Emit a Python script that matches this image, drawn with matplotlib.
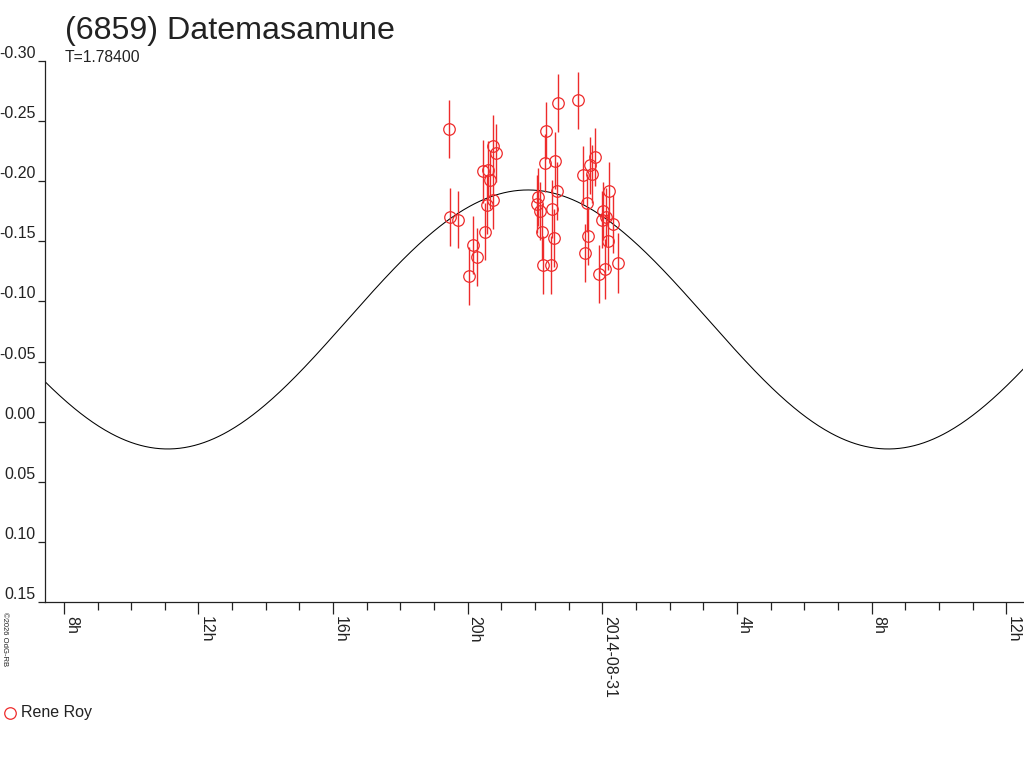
#!/usr/bin/env python3
"""Lightcurve of (6859) Datemasamune, 2014-08-30/31."""

import matplotlib
matplotlib.use("Agg")
import matplotlib.pyplot as plt
from matplotlib.lines import Line2D
from matplotlib.ticker import FixedLocator, MultipleLocator, FuncFormatter
import numpy as np

plt.rcParams["font.family"] = ["Liberation Sans", "DejaVu Sans"]

RED = "#ee2b2b"
INK = "#222222"

TITLE = "(6859) Datemasamune"
PERIOD_LABEL = "T=1.78400"
OBSERVER = "Rene Roy"
STAMP = "©2026 OdG-RB"

# time in hours relative to 2014-08-31 00:00 UT, relative magnitude, 1-sigma error
OBS_HOURS = [
    -4.55, -4.52, -4.30, -3.97, -3.83, -3.72, -3.48, -3.54, -3.39, -3.34,
    -3.24, -3.17, -3.42, -3.26,
    -1.31, -1.66, -1.70, -1.40, -1.34, -1.90, -1.95, -1.85, -1.49, -1.80,
    -1.44, -1.77, -1.53,
    -0.71, -0.22, -0.37, -0.57, -0.30, 0.21, -0.46, 0.01, -0.02, 0.11,
    0.31, -0.42, 0.18, -0.51, 0.48, 0.08, -0.09,
]
OBS_MAG = [
    -0.243, -0.170, -0.168, -0.121, -0.147, -0.137, -0.158, -0.208, -0.209, -0.201,
    -0.229, -0.223, -0.180, -0.184,
    -0.265, -0.242, -0.215, -0.217, -0.192, -0.187, -0.181, -0.175, -0.177, -0.158,
    -0.153, -0.130, -0.130,
    -0.267, -0.220, -0.213, -0.205, -0.206, -0.192, -0.182, -0.175, -0.168, -0.170,
    -0.164, -0.154, -0.150, -0.140, -0.132, -0.127, -0.123,
]
OBS_ERR = [
    0.024, 0.024, 0.024, 0.024, 0.024, 0.024, 0.024, 0.026, 0.024, 0.024,
    0.026, 0.024, 0.024, 0.024,
    0.024, 0.024, 0.024, 0.024, 0.024, 0.024, 0.024, 0.024, 0.024, 0.024,
    0.024, 0.024, 0.024,
    0.024, 0.024, 0.024, 0.024, 0.024, 0.024, 0.024, 0.024, 0.024, 0.024,
    0.024, 0.024, 0.024, 0.024, 0.025, 0.025, 0.024,
]

# fitted lightcurve: dominant second harmonic of the period T (days)
FIT_PERIOD_D = 1.784
FIT_MEAN = -0.085
FIT_AMP = 0.1076
FIT_T0_H = -2.21   # hour of maximum brightness

X_TICKS = [-16, -12, -8, -4, 0, 4, 8, 12]
X_TICK_LABELS = ["8h", "12h", "16h", "20h", "2014-08-31", "4h", "8h", "12h"]
Y_TICKS = [-0.30, -0.25, -0.20, -0.15, -0.10, -0.05, 0.00, 0.05, 0.10, 0.15]

X_RANGE = (-16.56, 12.50)
Y_RANGE = (0.15, -0.30)


def main() -> int:
    W, H = 1024, 768
    fig = plt.figure(figsize=(W / 100, H / 100), dpi=100)
    ax = fig.add_axes([45 / W, 1 - 602.3 / H, 978 / W, 541.6 / H])

    # model curve
    t = np.linspace(X_RANGE[0], X_RANGE[1], 800)
    half_period_h = FIT_PERIOD_D * 24 / 2
    model = FIT_MEAN - FIT_AMP * np.cos(2 * np.pi * (t - FIT_T0_H) / half_period_h)
    ax.plot(t, model, color="black", linewidth=0.75, zorder=2)

    ax.errorbar(OBS_HOURS, OBS_MAG, yerr=OBS_ERR, fmt="none",
                ecolor=RED, elinewidth=1.0, capsize=0, zorder=3)
    ax.plot(OBS_HOURS, OBS_MAG, "o", mfc="none", mec=RED, ms=8.3, mew=0.9,
            zorder=4)

    ax.set_xlim(*X_RANGE)
    ax.set_ylim(*Y_RANGE)

    for side in ("top", "right"):
        ax.spines[side].set_visible(False)
    for side in ("left", "bottom"):
        ax.spines[side].set_color(INK)
        ax.spines[side].set_linewidth(0.9)

    ax.xaxis.set_major_locator(FixedLocator(X_TICKS))
    ax.set_xticklabels(X_TICK_LABELS, rotation=-90, ha="left", va="top")
    ax.xaxis.set_minor_locator(MultipleLocator(1))
    ax.tick_params(axis="x", which="major", direction="out", length=8.6,
                   width=0.9, pad=1, labelsize=11.5, colors=INK)
    ax.tick_params(axis="x", which="minor", direction="out", length=5.8,
                   width=0.9, colors=INK)

    ax.yaxis.set_major_locator(FixedLocator(Y_TICKS))
    ax.yaxis.set_major_formatter(FuncFormatter(lambda v, _: f"{v:.2f}"))
    ax.tick_params(axis="y", direction="out", length=5, width=0.9, pad=1.5,
                   labelsize=11.5, colors=INK)
    for lbl in ax.get_yticklabels():
        lbl.set_verticalalignment("bottom")

    # header texts
    fig.text(65 / W, 1 - 31 / H, TITLE, fontsize=23.2, color=INK,
             ha="left", va="center")
    fig.text(65 / W, 1 - 57 / H, PERIOD_LABEL, fontsize=11.3, color=INK,
             ha="left", va="center")

    # copyright stamp along the left edge
    fig.text(1 / W, 1 - 612 / H, STAMP, fontsize=5.5, color=INK,
             rotation=-90, ha="left", va="top")

    # observer legend
    fig.add_artist(Line2D([10 / W], [1 - 713 / H], marker="o", mfc="none",
                          mec=RED, ms=8.3, mew=0.9, linestyle="none",
                          transform=fig.transFigure))
    fig.text(21 / W, 1 - 713 / H, OBSERVER, fontsize=11.5, color=INK,
             ha="left", va="center")

    fig.savefig("out.png", dpi=100)
    plt.close(fig)
    return 0


if __name__ == "__main__":
    raise SystemExit(main())
